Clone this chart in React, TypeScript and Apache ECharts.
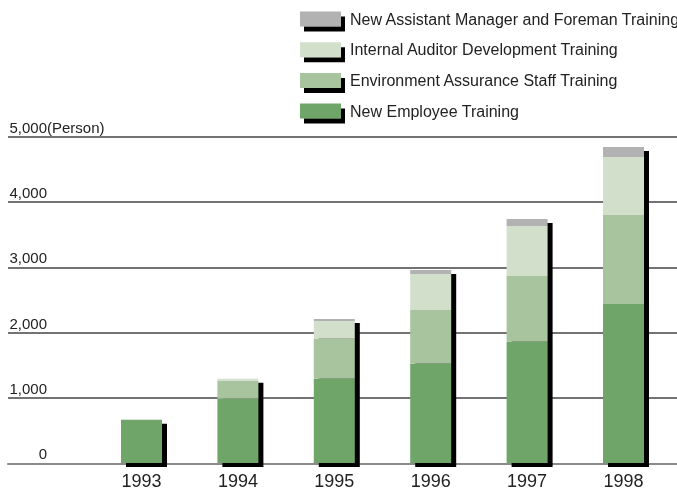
import React, { useEffect, useRef } from "react";
import * as echarts from "echarts";

const years = ["1993", "1994", "1995", "1996", "1997", "1998"];
const newEmployee = [663, 985, 1290, 1520, 1857, 2438];
const envAssurance = [0, 275, 613, 827, 1010, 1363];
const internalAuditor = [0, 30, 275, 551, 765, 888];
const assistantManager = [0, 0, 31, 61, 108, 153];
const yTicks = [0, 1000, 2000, 3000, 4000, 5000];

const names = {
  ne: "New Employee Training",
  env: "Environment Assurance Staff Training",
  ia: "Internal Auditor Development Training",
  am: "New Assistant Manager and Foreman Training",
};

const colors = {
  ne: "#70a56a",
  env: "#a8c49f",
  ia: "#d2dfcb",
  am: "#b2b2b2",
};

export default function App() {
  const ref = useRef<HTMLDivElement>(null);
  useEffect(() => {
    if (!ref.current) return;
    const chart = echarts.init(ref.current, null, { renderer: "svg" });
    const totals = years.map(
      (_, i) => newEmployee[i] + envAssurance[i] + internalAuditor[i] + assistantManager[i]
    );
    const font = "'Liberation Sans', Arial, sans-serif";
    const barW = 41;
    const top = 136.8;
    const bottom = 490 - 463.3;
    const barSeries = (name: string, data: number[], color: string) => ({
      name,
      type: "bar",
      stack: "total",
      xAxisIndex: 1,
      yAxisIndex: 1,
      barWidth: barW,
      data,
      itemStyle: { color },
      z: 3,
    });
    chart.setOption({
      animation: false,
      textStyle: { fontFamily: font },
      grid: [
        { left: 8, right: 0, top, bottom, containLabel: false },
        { left: 93.3, right: 5.3, top, bottom, containLabel: false },
      ],
      legend: {
        orient: "vertical",
        left: 300,
        top: 11,
        padding: 0,
        itemWidth: 41,
        itemHeight: 15,
        itemGap: 14.7,
        selectedMode: false,
        icon: "rect",
        data: [names.am, names.ia, names.env, names.ne],
        itemStyle: {
          shadowColor: "#000",
          shadowOffsetX: 4,
          shadowOffsetY: 5,
          shadowBlur: 0,
        },
        textStyle: {
          fontFamily: font,
          fontSize: 16,
          color: "#222",
          lineHeight: 15,
          padding: [0, 0, 0, 4],
        },
      },
      xAxis: [
        {
          type: "category",
          gridIndex: 0,
          data: years,
          axisLabel: { show: false },
          axisTick: { show: false },
          axisLine: { show: true, lineStyle: { color: "#8a8a8a", width: 2 } },
        },
        {
          type: "category",
          gridIndex: 1,
          data: years,
          axisLine: { show: false },
          axisTick: { show: false },
          axisLabel: {
            margin: 9,
            fontSize: 18,
            color: "#222",
            fontFamily: "'Liberation Sans Narrow', 'Liberation Sans', sans-serif",
          },
        },
      ],
      yAxis: [
        {
          type: "value",
          gridIndex: 0,
          min: yTicks[0],
          max: yTicks[yTicks.length - 1],
          interval: 1000,
          axisLine: { show: false },
          axisTick: { show: false },
          splitLine: { show: true, lineStyle: { color: "#444", width: 1.5 } },
          name: "(Person)",
          nameLocation: "end",
          nameGap: 0,
          nameMoveOverlap: false,
          nameTextStyle: {
            align: "left",
            verticalAlign: "bottom",
            fontSize: 15,
            color: "#222",
            fontFamily: font,
            padding: [0, 0, 2, 39],
          },
          axisLabel: {
            inside: true,
            margin: 39,
            align: "right",
            verticalAlign: "bottom",
            padding: [0, 0, 2, 0],
            fontSize: 15,
            color: "#222",
            fontFamily: font,
            formatter: (v: number) => (v === 0 ? "0" : v.toLocaleString("en-US")),
          },
        },
        {
          type: "value",
          gridIndex: 1,
          min: yTicks[0],
          max: yTicks[yTicks.length - 1],
          interval: 1000,
          show: false,
          splitLine: { show: false },
        },
      ],
      series: [
        {
          type: "custom",
          xAxisIndex: 1,
          yAxisIndex: 1,
          z: 2,
          silent: true,
          data: totals.map((t, i) => [i, t]),
          renderItem: (params: any, api: any) => {
            const idx = api.value(0);
            const p = api.coord([idx, api.value(1)]);
            const p0 = api.coord([idx, 0]);
            return {
              type: "rect",
              shape: {
                x: p[0] - barW / 2 + 5,
                y: p[1] + 4,
                width: barW,
                height: p0[1] - p[1],
              },
              style: { fill: "#000" },
            };
          },
        },
        barSeries(names.ne, newEmployee, colors.ne),
        barSeries(names.env, envAssurance, colors.env),
        barSeries(names.ia, internalAuditor, colors.ia),
        barSeries(names.am, assistantManager, colors.am),
      ],
    });
    return () => chart.dispose();
  }, []);
  return <div ref={ref} style={{ width: 677, height: 490, position: "fixed", left: 0, top: 0 }} />;
}
